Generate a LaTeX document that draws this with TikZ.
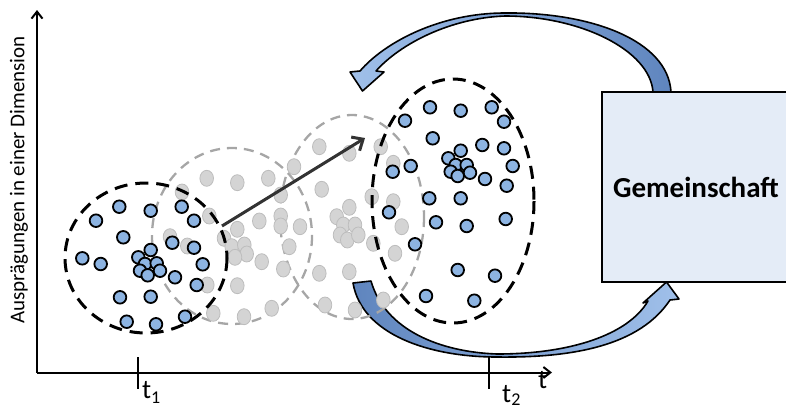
\documentclass[tikz,border=0pt]{standalone}
\usepackage{fontspec}
\setmainfont{Carlito}
\usetikzlibrary{arrows.meta}
\definecolor{dotblue}{HTML}{8DB4E2}
\definecolor{dotgray}{HTML}{D4D4D4}
\definecolor{dotgrayline}{HTML}{BDBDBD}
\definecolor{ellgray}{HTML}{A6A6A6}
\definecolor{boxfill}{HTML}{E4ECF7}
\definecolor{arrlight}{HTML}{A0C0EA}
\definecolor{arrdark}{HTML}{5F85BE}
\definecolor{arrowdark}{HTML}{333333}
\tikzset{
  bluedot/.style={fill=dotblue, draw=black, line width=1.8pt},
  graydot/.style={fill=dotgray, draw=dotgrayline, line width=0.8pt},
  blackell/.style={draw=black, line width=3pt, dash pattern=on 13pt off 8pt},
  grayell/.style={draw=ellgray, line width=2.3pt, dash pattern=on 10pt off 7pt},
  axis/.style={draw=black, line width=2pt},
  curvedarrow/.style={draw=black, line width=1.6pt, line join=round},
  lbl/.style={font=\fontsize{27}{27}\selectfont, inner sep=0pt},
}
\begin{document}
\begin{tikzpicture}[x=1pt,y=-1pt]
\useasboundingbox (0,0) rectangle (786,410);

% curved arrows
\path[curvedarrow, left color=arrlight, right color=arrdark]
  (350,72) -- (362.5,91) -- (384,72) -- (376,71)
  .. controls (400,44) and (450,18) .. (505,16)
  .. controls (580,16) and (650,50) .. (653,92)
  -- (671,92)
  .. controls (668,40) and (590,12) .. (505,13)
  .. controls (440,13) and (385,42) .. (360,71) -- cycle;
\path[curvedarrow, left color=arrdark, right color=arrlight]
  (353,283) -- (371,281)
  .. controls (385,330) and (440,352) .. (497,354)
  .. controls (570,354) and (628,335) .. (648,301)
  -- (643,303) -- (666.5,282) -- (679,299) -- (670,300)
  .. controls (640,345) and (575,358) .. (497,357)
  .. controls (430,357) and (362,335) .. (353,283) -- cycle;

% gray ellipses and dots
\draw[grayell] (232,236) ellipse [x radius=80, y radius=88];
\draw[grayell] (352,217) ellipse [x radius=72, y radius=102];
\foreach \p in {(206.7,178.3),(237.3,182.7),(268.3,178.3),(294,166.7),(182,192),
  (280.7,195),(209.3,216),(259.3,221),(280.7,216),(280.7,226),(237.3,229.3),
  (224,238.3),(231.7,246.7),(244.3,245),(246.7,254),(235,257.3),(170,236.7),
  (187.3,246),(289.3,246.7),(261.7,261.7),(283.3,269),(237.3,285.7),(207.3,285),
  (271.7,308.3),(213.3,313.3),(244,316.7),(319.3,146.7),(349.3,153.3),(380.7,146.7),
  (393.3,163.3),(321.7,189.3),(371.7,196.7),(393.3,201.7),(349.3,207.3),(336.7,216.7),
  (343.3,225),(355,225),(340,235),(347.3,240),(358.3,235),(300,226.7),(401.7,226.7),
  (373.3,243.3),(395,253.3),(319.3,273.3),(349.3,271.7),(325,305),(355,310),(383.3,300)}
  \path[graydot] \p ellipse [x radius=6.8, y radius=8];

% black ellipses
\draw[blackell] (146,258) ellipse [x radius=81, y radius=75];
\draw[blackell] (453,201) ellipse [x radius=81, y radius=122];

% blue dots
\foreach \p in {(119.3,206.7),(150.7,210.7),(181.7,206.7),(96,220.7),(194,220.7),
  (123.3,237.3),(172.3,242.7),(194,247.7),(82.3,258.3),(100.7,264),(150.7,250),
  (138.3,257.3),(145,264),(156.7,263.3),(140,270.7),(147.7,275.3),(160,270.7),
  (175,277.3),(202.7,264.3),(196.7,285),(120,297.3),(150.7,296.7),(126.7,321.7),
  (156,324.3),(185,316.7),
  (430,107.3),(460.7,110.7),(491.7,107.3),(405,120.7),(504,121.7),(432.7,138.3),
  (482.3,145),(504,148.3),(392.7,171.7),(410.7,166),(460.7,150.7),(448.3,158.3),
  (455.7,165),(466.7,165),(450.7,171.7),(457.7,176),(470,172.7),(485,179),
  (512.7,166),(506.7,185.7),(429.3,198.3),(460.7,198.3),(389,212.3),(436,222.3),
  (466.7,226),(505.7,219),(415,244.3),(457.7,270),(495,275.7),(426,296),(474.3,300.7)}
  \path[bluedot] \p circle [radius=6.3];

% movement arrow
\coordinate (mvstart) at (222,226);
\coordinate (mvend) at (365,138);
\draw[arrowdark, line width=3pt, -{Straight Barb[length=9pt,width=16pt,line width=3pt]}] (mvstart) -- (mvend);

% Gemeinschaft box
\node[draw=black, line width=1.5pt, fill=boxfill, minimum width=188pt, minimum height=190pt,
  font=\fontsize{29}{29}\selectfont\bfseries, inner sep=0pt] (gem) at (696,187) {Gemeinschaft};

% axes
\coordinate (origin) at (37,372.5);
\coordinate (yend) at (37,10);
\coordinate (xend) at (552,372.5);
\draw[axis, -{Straight Barb[length=7pt,width=11pt,line width=2pt]}] (origin) -- (yend);
\draw[axis, -{Straight Barb[length=7pt,width=11pt,line width=2pt]}] (origin) -- (xend);
\coordinate (t1a) at (137.5,357);
\coordinate (t1b) at (137.5,389);
\coordinate (t2a) at (489,357);
\coordinate (t2b) at (489,389);
\draw[axis] (t1a) -- (t1b);
\draw[axis] (t2a) -- (t2b);
\node[lbl, anchor=base west] (tlab) at (538,388) {t};
\node[lbl, anchor=base west] (t1lab) at (142,398) {t{\fontsize{18}{18}\selectfont\raisebox{-5pt}{1}}};
\node[lbl, anchor=base west] (t2lab) at (502,402) {t{\fontsize{18}{18}\selectfont\raisebox{-3pt}{2}}};
\node[rotate=90, font=\fontsize{21}{21}\selectfont, inner sep=0pt] (ylab) at (19,180) {Ausprägungen in einer Dimension};
\end{tikzpicture}
\end{document}
